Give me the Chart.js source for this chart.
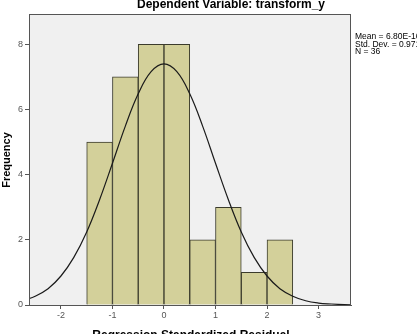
<!DOCTYPE html>
<html>
<head>
<meta charset="utf-8">
<script src="https://cdn.jsdelivr.net/npm/chart.js@4/dist/chart.umd.min.js"></script>
<style>
  html, body { margin: 0; padding: 0; background: #fff; }
  #wrap { width: 417px; height: 334px; position: relative; overflow: hidden; }
</style>
</head>
<body>
<div id="wrap"><canvas id="hist"></canvas></div>
<script>
// Histogram of standardized residuals with normal curve
const binCenters = [-1.25, -0.75, -0.25, 0.25, 0.75, 1.25, 1.75, 2.25];
const binCounts = [5, 7, 8, 8, 2, 3, 1, 2];

// normal curve
const curveX = [-2.75, -2.5, -2.25, -2, -1.75, -1.5, -1.25, -1, -0.75, -0.5, -0.25, 0,
    0.25, 0.5, 0.75, 1, 1.25, 1.5, 1.75, 2, 2.25, 2.5, 2.75, 3, 3.25, 3.5, 3.75];
const curveY = [0.13, 0.27, 0.50, 0.89, 1.46, 2.24, 3.23, 4.35, 5.49, 6.48, 7.16, 7.40,
    7.16, 6.48, 5.49, 4.35, 3.23, 2.24, 1.46, 0.89, 0.50, 0.27, 0.13, 0.06, 0.03, 0.01, 0.00];

const xTicks = [-2, -1, 0, 1, 2, 3];
const yTicks = [0, 2, 4, 6, 8];
const statLines = ['Mean = 6.80E-16', 'Std. Dev. = 0.971', 'N = 36'];

const FONT = '"Liberation Sans", Arial, sans-serif';

// ── Frame, background and texts ──────────────────────────────
const frame = {
    id: 'frame',
    beforeDraw(chart) {
        const { ctx, chartArea: a } = chart;
        ctx.save();
        ctx.fillStyle = '#f0f0f0';
        ctx.fillRect(a.left, a.top, a.right - a.left, a.bottom - a.top);
        ctx.restore();
    },
    afterDraw(chart) {
        const { ctx, chartArea: a } = chart;
        ctx.save();
        ctx.strokeStyle = '#555';
        ctx.lineWidth = 1;
        ctx.strokeRect(a.left + 0.5, a.top + 0.5, a.right - a.left - 1, a.bottom - a.top);

        ctx.fillStyle = '#000';
        ctx.textAlign = 'center';
        ctx.textBaseline = 'middle';
        ctx.font = 'bold 12px ' + FONT;
        ctx.fillText('Dependent Variable: transform_y', 231, 5);
        ctx.fillText('Regression Standardized Residual', 191, 336);

        ctx.save();
        ctx.translate(7, 160);
        ctx.rotate(-Math.PI / 2);
        ctx.font = 'bold 11px ' + FONT;
        ctx.fillText('Frequency', 0, 0);
        ctx.restore();

        ctx.textAlign = 'left';
        ctx.font = '8.5px ' + FONT;
        statLines.forEach((t, i) => ctx.fillText(t, 355, 37 + i * 7.5));
        ctx.restore();
    }
};

new Chart(document.getElementById('hist'), {
    type: 'bar',
    data: {
        datasets: [{
            type: 'line',
            data: curveX.map((x, i) => ({ x, y: curveY[i] })),
            borderColor: '#1a1a1a',
            borderWidth: 1.2,
            pointRadius: 0,
            tension: 0.4,
            fill: false,
            order: 0,
        }, {
            type: 'bar',
            data: binCenters.map((x, i) => ({ x, y: binCounts[i] })),
            backgroundColor: '#d3d09a',
            borderColor: '#3b3b2c',
            borderWidth: 1,
            barPercentage: 1,
            categoryPercentage: 1,
            order: 1,
        }]
    },
    options: {
        responsive: true, maintainAspectRatio: false,
        animation: false,
        layout: { padding: { left: 0, right: 66, top: 14, bottom: 0 } },
        plugins: { legend: { display: false }, tooltip: { enabled: false } },
        scales: {
            x: {
                type: 'linear', min: -2.62, max: 3.63, offset: false,
                afterBuildTicks: s => { s.ticks = xTicks.map(v => ({ value: v })); },
                afterFit: s => { s.height = 29; },
                grid: { offset: false, drawOnChartArea: false, tickLength: 4, color: '#555' },
                border: { color: '#555' },
                ticks: { color: '#555', font: { family: FONT, size: 9 }, padding: 1, maxRotation: 0 }
            },
            y: {
                min: 0, max: 8.93,
                afterBuildTicks: s => { s.ticks = yTicks.map(v => ({ value: v })); },
                afterFit: s => { s.width = 29; },
                grid: { offset: false, drawOnChartArea: false, tickLength: 4, color: '#555' },
                border: { color: '#555' },
                ticks: { color: '#555', font: { family: FONT, size: 9 }, padding: 2 }
            }
        }
    },
    plugins: [frame]
});
</script>
</body>
</html>
